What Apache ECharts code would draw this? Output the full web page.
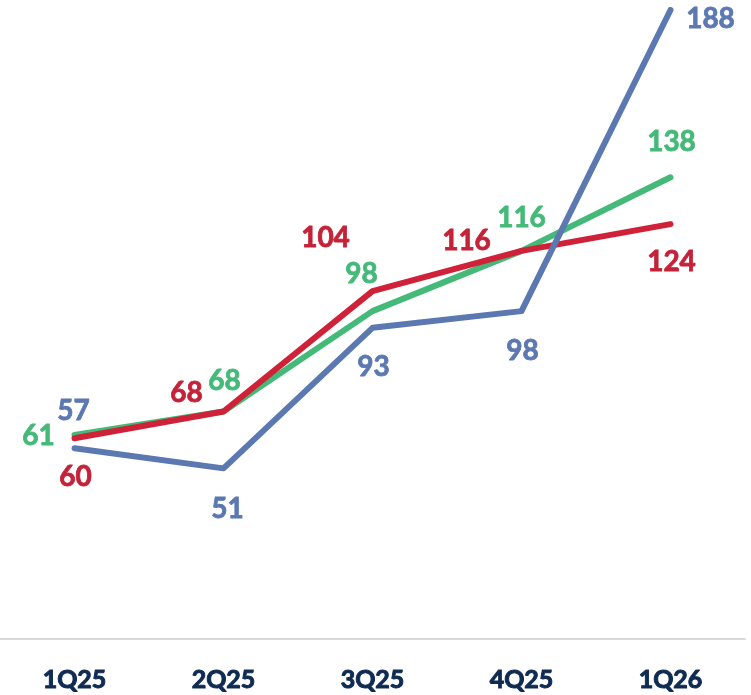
<!DOCTYPE html>
<html>
<head>
<meta charset="utf-8">
<script src="https://cdn.jsdelivr.net/npm/echarts@6/dist/echarts.min.js"></script>
<style>
  html, body { margin: 0; padding: 0; background: #ffffff; }
  #chart { width: 751px; height: 695px; }
</style>
</head>
<body>
<div id="chart"></div>
<script>
// Quarterly series
const quarters = ['1Q25', '2Q25', '3Q25', '4Q25', '1Q26'];
const blueValues = [57, 51, 93, 98, 188];
const greenValues = [61, 68, 98, 116, 138];
const redValues = [60, 68, 104, 116, 124];

// Label placement (pixel offsets from each point)
const blueLabelOffsets = [[-1, -37], [4, 41], [1, 39], [1, 40], [40, 9]];
const greenLabelOffsets = [[-36, 1], [1, -31], [-11, -37], [0, -33], [1, -35]];
const redLabelOffsets = [[1, 39], [-37, -19], [-47, -53], [-55, -10], [1, 38]];

const BLUE = '#5b78b1';
const GREEN = '#44b978';
const RED = '#cf2137';
const RED_TEXT = '#c42238';
const NAVY = '#0f2b52';
const FONT = 'Lato, "Noto Sans", sans-serif';

function buildData(values, offsets) {
  return values.map((v, i) => ({
    value: v,
    label: { offset: offsets[i] }
  }));
}

function lineSeries(name, values, offsets, color, textColor) {
  return {
    name: name,
    type: 'line',
    data: buildData(values, offsets),
    symbol: 'circle',
    symbolSize: 1,
    showSymbol: true,
    itemStyle: { color: color },
    lineStyle: { color: color, width: 6, cap: 'round', join: 'round' },
    label: {
      show: true,
      position: 'inside',
      color: textColor,
      fontFamily: FONT,
      fontWeight: 'bold',
      fontSize: 28,
      textBorderColor: textColor,
      textBorderWidth: 0.8
    },
    emphasis: { disabled: true },
    silent: true
  };
}

const chart = echarts.init(document.getElementById('chart'), null, { renderer: 'canvas' });
chart.setOption({
  animation: false,
  backgroundColor: '#ffffff',
  grid: { left: 0, right: 6, top: 10, bottom: 56, containLabel: false },
  xAxis: {
    type: 'category',
    data: quarters,
    boundaryGap: true,
    axisLine: { show: true, lineStyle: { color: '#d9d9d9', width: 2 } },
    axisTick: { show: false },
    axisLabel: {
      color: NAVY,
      fontFamily: FONT,
      fontWeight: 'bold',
      fontSize: 25,
      margin: 28,
      textBorderColor: NAVY,
      textBorderWidth: 1
    }
  },
  yAxis: {
    type: 'value',
    min: 0,
    max: 188,
    show: false,
    splitLine: { show: false }
  },
  series: [
    lineSeries('green', greenValues, greenLabelOffsets, GREEN, GREEN),
    lineSeries('red', redValues, redLabelOffsets, RED, RED_TEXT),
    lineSeries('blue', blueValues, blueLabelOffsets, BLUE, BLUE)
  ]
});
</script>
</body>
</html>
